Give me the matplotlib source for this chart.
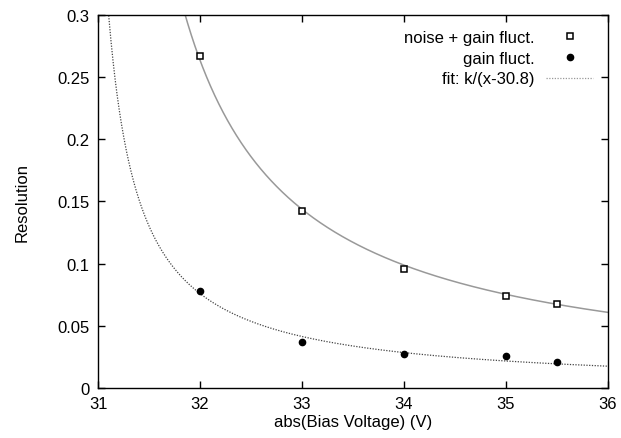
import numpy as np
import matplotlib
matplotlib.use("Agg")
import matplotlib.pyplot as plt

plt.rcParams['font.family'] = ['Liberation Sans', 'DejaVu Sans']

voltage = [32, 33, 34, 35, 35.5]
noise_gain = [0.267, 0.142, 0.0957, 0.074, 0.0676]
gain_only = [0.078, 0.037, 0.0274, 0.0257, 0.021]
k_noise_gain = 0.316
k_gain = 0.091
x0 = 30.8

xticks = [31, 32, 33, 34, 35, 36]
yticks = [0, 0.05, 0.1, 0.15, 0.2, 0.25, 0.3]
ytick_labels = ['0', '0.05', '0.1', '0.15', '0.2', '0.25', '0.3']

fig = plt.figure(figsize=(6.21, 4.39), dpi=100)
ax = fig.add_axes([0.158, 0.114, 0.821, 0.850])

xf = np.linspace(30.85, 36, 2000)
ax.plot(xf, k_noise_gain / (xf - x0), color='#999999', lw=1.1, zorder=2)
ax.plot(xf, k_gain / (xf - x0), color='#444444', lw=0.9, ls=(0, (1, 1.2)), zorder=2)

ax.plot(voltage, noise_gain, ls='none', marker='s', ms=5, mfc='white',
        mec='black', mew=1.1, label='noise + gain fluct.', zorder=3)
ax.plot(voltage, gain_only, ls='none', marker='o', ms=4.5, mfc='black',
        mec='black', label='gain fluct.', zorder=3)
ax.plot([], [], color='#999999', lw=0.9, ls=(0, (1, 1.2)), label='fit: k/(x-30.8)')

ax.set_xlim(31, 36)
ax.set_ylim(0, 0.3)
ax.set_xticks(xticks)
ax.set_xticklabels([str(t) for t in xticks])
ax.set_yticks(yticks)
ax.set_yticklabels(ytick_labels)
ax.tick_params(direction='in', top=True, right=True, length=5, width=1,
               labelsize=12, colors='black', pad=6)
for s in ax.spines.values():
    s.set_linewidth(1)

ax.set_xlabel('abs(Bias Voltage) (V)', fontsize=12, labelpad=2)
ax.set_ylabel('Resolution', fontsize=12, labelpad=20)

leg = ax.legend(loc='upper right', frameon=False, markerfirst=False,
                fontsize=12, handlelength=2.8, handletextpad=0.7,
                labelspacing=0.35, borderaxespad=0.3, borderpad=0.6)
for t in leg.get_texts():
    t.set_ha('right')

fig.savefig('out.png', dpi=100)
